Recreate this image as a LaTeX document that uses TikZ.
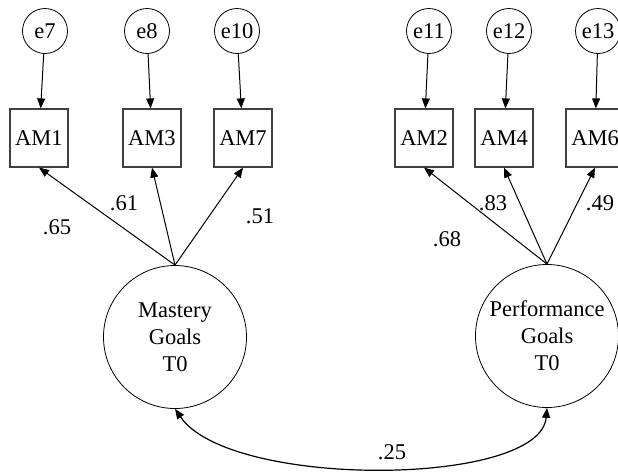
\documentclass[tikz,border=0pt]{standalone}
\usepackage{fontspec}
\setmainfont{Liberation Serif}
\usetikzlibrary{arrows.meta}
\begin{document}
\begin{tikzpicture}[x=1pt,y=-1pt,
  every node/.style={font=\fontsize{22.5}{27}\selectfont},
  errvar/.style={draw, circle, minimum size=45pt, inner sep=0pt, line width=0.8pt},
  indicator/.style={draw=black!75, rectangle, minimum size=58pt, inner sep=0pt, line width=1.2pt},
  latent/.style={draw, circle, minimum size=143pt, inner sep=0pt, align=center, line width=0.8pt},
  coef/.style={inner sep=0pt},
  loading/.style={-{Triangle[length=10pt,width=8pt]}, line width=1pt},
  covar/.style={{Triangle[length=10pt,width=8pt]}-{Triangle[length=10pt,width=8pt]}, line width=1.2pt}
]
\clip (0,0) rectangle (618,472);

% error terms
\node[errvar] (e7)  at (45,31)  {e7};
\node[errvar] (e8)  at (147,31) {e8};
\node[errvar] (e10) at (237,31) {e10};
\node[errvar] (e11) at (429,31) {e11};
\node[errvar] (e12) at (509,31) {e12};
\node[errvar] (e13) at (598,31) {e13};

% observed indicators
\node[indicator] (AM1) at (39,138)  {AM1};
\node[indicator] (AM3) at (152,138) {AM3};
\node[indicator] (AM7) at (243,138) {AM7};
\node[indicator] (AM2) at (424,138) {AM2};
\node[indicator] (AM4) at (504,138) {AM4};
\node[indicator] (AM6) at (595,138) {AM6};

% latent factors
\node[latent] (MG) at (175,337) {Mastery\\Goals\\T0};
\node[latent] (PG) at (547,336) {Performance\\Goals\\T0};

% error paths
\foreach \e/\a in {e7/AM1, e8/AM3, e10/AM7, e11/AM2, e12/AM4, e13/AM6}
  \draw[loading] (\e) -- (\a);

% factor loadings
\foreach \a in {AM1, AM3, AM7}
  \draw[loading] (MG.north) -- (\a.south);
\foreach \a in {AM2, AM4, AM6}
  \draw[loading] (PG.north) -- (\a.south);

% covariance between the factors
\draw[covar] (MG.south) .. controls (230,489) and (540,487) .. (PG.south);

% coefficients
\node[coef] (c65) at (57,227)  {.65};
\node[coef] (c61) at (124,203) {.61};
\node[coef] (c51) at (260,216) {.51};
\node[coef] (c68) at (447,239) {.68};
\node[coef] (c83) at (493,203) {.83};
\node[coef] (c49) at (600,203) {.49};
\node[coef] (c25) at (392,452) {.25};
\end{tikzpicture}
\end{document}
